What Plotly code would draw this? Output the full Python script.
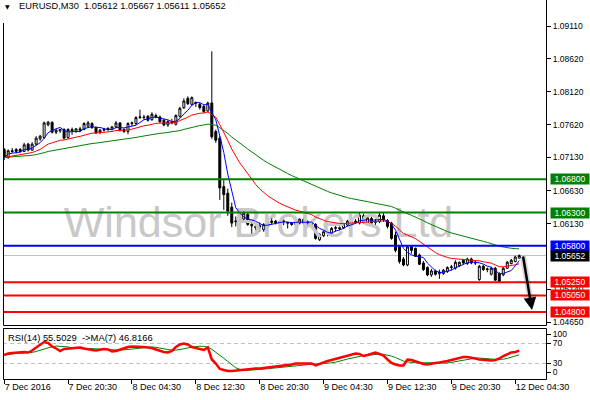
import plotly.graph_objects as go
import pandas as pd

# ---------------- data ----------------
opens = [1.0725,1.0713,1.0723,1.0722,1.0725,1.0722,1.0733,1.0724,1.0733,1.0741,
         1.0743,1.0762,1.0766,1.0751,1.0753,1.0755,1.0743,1.0755,1.0752,1.0756,
         1.0755,1.0760,1.0764,1.0758,1.0751,1.0754,1.0755,1.0755,1.0759,1.0765,
         1.0755,1.0752,1.0764,1.0764,1.0773,1.0774,1.0775,1.0770,1.0776,1.0774,
         1.0769,1.0762,1.0767,1.0763,1.0775,1.0788,1.0802,1.0793,1.0796,1.0793,
         1.0790,1.0783,1.0795,1.0752,1.0742,1.0669,1.0659,1.0638,1.0616,1.0617,
         1.0620,1.0627,1.0612,1.0609,1.0608,1.0604,1.0609,1.0615,1.0617,1.0614,
         1.0616,1.0615,1.0614,1.0612,1.0614,1.0620,1.0614,1.0615,1.0612,1.0589,
         1.0595,1.0601,1.0599,1.0606,1.0607,1.0607,1.0611,1.0613,1.0617,1.0614,
         1.0625,1.0612,1.0621,1.0615,1.0616,1.0625,1.0618,1.0614,1.0596,1.0578,
         1.0560,1.0551,1.0578,1.0576,1.0566,1.0554,1.0547,1.0536,1.0542,1.0538,
         1.0538,1.0541,1.0547,1.0546,1.0550,1.0558,1.0553,1.0560,1.0555,1.0529,
         1.0549,1.0544,1.0537,1.0546,1.0538,1.0536,1.0546,1.0553,1.0556,1.05612]
highs = [1.0727,1.0725,1.0727,1.0727,1.0727,1.0735,1.0735,1.0736,1.0745,1.0747,
         1.0767,1.0768,1.0767,1.0756,1.0756,1.0757,1.0757,1.0758,1.0757,1.0759,
         1.0766,1.0768,1.0766,1.0760,1.0756,1.0757,1.0758,1.0760,1.0768,1.0766,
         1.0757,1.0766,1.0767,1.0775,1.0785,1.0777,1.0777,1.0781,1.0779,1.0776,
         1.0771,1.0769,1.0771,1.0778,1.0789,1.0802,1.0805,1.0805,1.0797,1.0795,
         1.0792,1.0797,1.0873,1.0755,1.0745,1.0679,1.0666,1.0645,1.0624,1.0628,
         1.0632,1.0630,1.0620,1.0614,1.0615,1.0614,1.0618,1.0624,1.0619,1.0618,
         1.0620,1.0616,1.0616,1.0619,1.0621,1.0622,1.0618,1.0617,1.0614,1.0599,
         1.0603,1.0604,1.0608,1.0610,1.0609,1.0614,1.0619,1.0619,1.0620,1.0630,
         1.0628,1.0624,1.0624,1.0620,1.0630,1.0629,1.0620,1.0616,1.0601,1.0580,
         1.0563,1.0580,1.0581,1.0577,1.0568,1.0557,1.0549,1.0545,1.0544,1.0544,
         1.0545,1.0549,1.0551,1.0558,1.0556,1.0560,1.0562,1.0562,1.0558,1.0551,
         1.0551,1.0547,1.0548,1.0548,1.0540,1.0548,1.0557,1.0560,1.0565,1.05667]
lows = [1.0709,1.0711,1.0720,1.0719,1.0720,1.0721,1.0722,1.0723,1.0731,1.0738,
        1.0741,1.0760,1.0749,1.0748,1.0750,1.0740,1.0741,1.0747,1.0750,1.0751,
        1.0754,1.0758,1.0756,1.0749,1.0748,1.0752,1.0753,1.0754,1.0757,1.0752,
        1.0750,1.0748,1.0760,1.0762,1.0771,1.0770,1.0767,1.0768,1.0772,1.0765,
        1.0760,1.0759,1.0763,1.0761,1.0773,1.0786,1.0792,1.0791,1.0789,1.0785,
        1.0780,1.0781,1.0741,1.0735,1.0649,1.0634,1.0625,1.0608,1.0609,1.0613,
        1.0615,1.0610,1.0596,1.0603,1.0601,1.0601,1.0607,1.0612,1.0612,1.0612,
        1.0611,1.0606,1.0610,1.0610,1.0612,1.0612,1.0610,1.0607,1.0589,1.0587,
        1.0593,1.0594,1.0597,1.0601,1.0603,1.0605,1.0609,1.0611,1.0613,1.0612,
        1.0613,1.0610,1.0613,1.0609,1.0614,1.0616,1.0606,1.0589,1.0570,1.0553,
        1.0549,1.0549,1.0568,1.0563,1.0551,1.0542,1.0534,1.0533,1.0535,1.0530,
        1.0536,1.0539,1.0543,1.0544,1.0548,1.0552,1.0551,1.0552,1.0551,1.0527,
        1.0542,1.0540,1.0535,1.0527,1.0525,1.0534,1.0545,1.0552,1.0555,1.05611]
closes = [1.0713,1.0723,1.0722,1.0725,1.0722,1.0732,1.0724,1.0733,1.0742,1.0745,
          1.0765,1.0766,1.0751,1.0754,1.0755,1.0742,1.0755,1.0753,1.0756,1.0754,
          1.0764,1.0765,1.0758,1.0750,1.0754,1.0755,1.0757,1.0759,1.0765,1.0754,
          1.0752,1.0764,1.0765,1.0773,1.0774,1.0773,1.0769,1.0778,1.0774,1.0767,
          1.0762,1.0767,1.0765,1.0776,1.0787,1.0798,1.0794,1.0803,1.0795,1.0788,
          1.0782,1.0795,1.0744,1.0739,1.0667,1.0657,1.0632,1.0614,1.0617,1.0626,
          1.0629,1.0612,1.0610,1.0607,1.0610,1.0612,1.0616,1.0617,1.0614,1.0616,
          1.0617,1.0614,1.0612,1.0616,1.0620,1.0614,1.0616,1.0612,1.0591,1.0597,
          1.0601,1.0599,1.0606,1.0607,1.0606,1.0612,1.0617,1.0618,1.0615,1.0626,
          1.0615,1.0622,1.0614,1.0617,1.0626,1.0619,1.0609,1.0591,1.0573,1.0556,
          1.0551,1.0578,1.0573,1.0564,1.0552,1.0544,1.0536,1.0542,1.0537,1.0540,
          1.0543,1.0547,1.0548,1.0555,1.0555,1.0554,1.0560,1.0554,1.0554,1.0549,
          1.0544,1.0545,1.0546,1.0528,1.0526,1.0546,1.0555,1.0558,1.0563,1.05652]
rsi_values = [47,50,51,52,52,53,52,56,62,68,
              73,71,64,60,55,59,60,60,62,62,
              60,58,57,56,57,59,58,54,55,58,
              60,63,64,64,64,63,62,61,58,55,
              53,52,55,63,68,70,68,63,61,60,
              57,62,38,30,19,17,15,15,16,17,
              17,18,19,20,20,21,22,23,24,25,
              25,26,28,30,30,31,30,30,26,29,
              33,35,37,39,41,43,45,47,50,49,
              45,47,50,52,49,46,38,31,28,26,
              26,38,37,34,31,29,28,30,31,32,
              33,35,37,39,41,43,43,42,40,38,
              37,37,36,37,40,45,49,52,53,55.5]

tick_positions = [0, 16, 32, 48, 64, 80, 96, 112, 128]
tick_labels = ["7 Dec 2016", "7 Dec 20:30", "8 Dec 04:30", "8 Dec 12:30", "8 Dec 20:30",
               "9 Dec 04:30", "9 Dec 12:30", "9 Dec 20:30", "12 Dec 04:30"]
price_ticks = [1.09110, 1.08620, 1.08120, 1.07620, 1.07130, 1.06630, 1.06130, 1.05140, 1.04650]
level_prices = [1.0680, 1.0630, 1.0580, 1.0525, 1.0505, 1.0480]
level_colors = ["#008000", "#008000", "#0000FF", "#FF0000", "#FF0000", "#FF0000"]
last_price = 1.05652
rsi_levels = [70, 30]
rsi_tick_vals = [88.6, 70, 30, 12.6]
rsi_tick_text = ["100", "70", "30", "0"]
title_text = "EURUSD,M30\u00a0\u00a01.05612 1.05667 1.05611 1.05652"
rsi_text = "RSI(14) 55.5029\u00a0\u00a0->MA(7) 46.8166"
watermark = "Windsor Brokers Ltd"

# indicator periods
FAST, MID, SLOW, RSI_MA = 5, 18, 50, 7

# ---------------- derived ----------------
n = len(closes)
idx = list(range(n))
cs = pd.Series(closes)
ma_fast = cs.rolling(FAST, min_periods=1).mean()
ma_mid = cs.ewm(span=MID, adjust=False).mean()
ma_slow = cs.ewm(span=SLOW, adjust=False).mean()
rsi_ma = pd.Series(rsi_values).rolling(RSI_MA, min_periods=1).mean()

W, H = 590, 400
def px(x): return x / W
def py(y): return 1 - y / H

X0, X1 = px(3), px(546)
PX_PER_UNIT = 6637.0
y_top = 1.09110 + 26 / PX_PER_UNIT
y_bot = 1.09110 - (325 - 26) / PX_PER_UNIT
FONT = "Liberation Sans, Arial, sans-serif"

fig = go.Figure()

# watermark (under the candles)
fig.add_trace(go.Scatter(x=[63.7], y=[1.0610], mode="text", text=[watermark],
                         textfont=dict(family=FONT, size=43, color="#C8C8C8"),
                         hoverinfo="skip", xaxis="x", yaxis="y"))

fig.add_trace(go.Candlestick(
    x=idx, open=opens, high=highs, low=lows, close=closes,
    increasing=dict(line=dict(color="black", width=1), fillcolor="white"),
    decreasing=dict(line=dict(color="black", width=1), fillcolor="black"),
    whiskerwidth=0, hoverinfo="skip", xaxis="x", yaxis="y"))

fig.add_trace(go.Scatter(x=idx, y=ma_slow, mode="lines", line=dict(color="#008000", width=1), xaxis="x", yaxis="y", hoverinfo="skip"))
fig.add_trace(go.Scatter(x=idx, y=ma_mid, mode="lines", line=dict(color="#FF0000", width=1), xaxis="x", yaxis="y", hoverinfo="skip"))
fig.add_trace(go.Scatter(x=idx, y=ma_fast, mode="lines", line=dict(color="#0000FF", width=1), xaxis="x", yaxis="y", hoverinfo="skip"))

# RSI panel
fig.add_trace(go.Scatter(x=idx, y=rsi_ma, mode="lines", line=dict(color="#008000", width=1), xaxis="x2", yaxis="y2", hoverinfo="skip"))
fig.add_trace(go.Scatter(x=idx, y=rsi_values, mode="lines", line=dict(color="#FF0000", width=2.5), xaxis="x2", yaxis="y2", hoverinfo="skip"))

shapes = []
shapes.append(dict(type="line", xref="paper", x0=X0, x1=X1, yref="y", y0=last_price, y1=last_price,
                   line=dict(color="#C0C0C0", width=1), layer="below"))
for p, c in zip(level_prices, level_colors):
    shapes.append(dict(type="line", xref="paper", x0=X0, x1=X1, yref="y", y0=p, y1=p,
                       line=dict(color=c, width=2), layer="above"))
for lv in rsi_levels:
    shapes.append(dict(type="line", xref="paper", x0=X0, x1=X1, yref="y2", y0=lv, y1=lv,
                       line=dict(color="#C0C0C0", width=1, dash="4px,3px"), layer="below"))
lc = dict(color="black", width=1)
shapes.append(dict(type="line", xref="paper", yref="paper", x0=px(3.5), x1=px(3.5), y0=py(325.5), y1=py(23), line=lc))
shapes.append(dict(type="line", xref="paper", yref="paper", x0=px(546.5), x1=px(546.5), y0=py(325.5), y1=1, line=lc))
shapes.append(dict(type="line", xref="paper", yref="paper", x0=px(3.5), x1=px(546.5), y0=py(325.5), y1=py(325.5), line=lc))
shapes.append(dict(type="rect", xref="paper", yref="paper", x0=px(3.5), x1=px(546.5), y0=py(379.5), y1=py(328.5), line=lc))

annotations = []
for col, wdt in [("rgba(0,0,0,0.15)", 6), ("black", 2.5)]:
    annotations.append(dict(x=132.2, y=1.0483, ax=129.9, ay=1.0566, xref="x", yref="y",
                            axref="x", ayref="y", text="", showarrow=True, arrowhead=2,
                            arrowsize=1 if wdt < 3 else 0.5, arrowwidth=wdt, arrowcolor=col))
for p, c in zip(level_prices, level_colors):
    annotations.append(dict(xref="paper", x=px(550), xanchor="left", yref="y", y=p, yanchor="middle",
                            text=f"{p:.5f}", showarrow=False, bgcolor=c, borderpad=0,
                            width=38, height=10, align="center",
                            font=dict(family=FONT, size=8.5, color="white")))
annotations.append(dict(xref="paper", x=px(550), xanchor="left", yref="y", y=last_price, yanchor="middle",
                        text=f"{last_price:.5f}", showarrow=False, bgcolor="black", borderpad=0,
                        width=38, height=10, align="center",
                        font=dict(family=FONT, size=8.5, color="white")))
annotations.append(dict(xref="paper", yref="paper", x=px(2.5), y=py(6), xanchor="left", yanchor="middle",
                        text="▼", showarrow=False, font=dict(family="DejaVu Sans", size=6, color="black")))
annotations.append(dict(xref="paper", yref="paper", x=px(16.5), y=py(6), xanchor="left", yanchor="middle",
                        text=title_text, showarrow=False, font=dict(family=FONT, size=9.3, color="black")))
annotations.append(dict(xref="paper", yref="paper", x=px(6), y=py(337), xanchor="left", yanchor="middle",
                        text=rsi_text, showarrow=False, font=dict(family=FONT, size=9.4, color="black")))

fig.update_layout(
    width=W, height=H, autosize=False, margin=dict(l=0, r=0, t=0, b=0, pad=0),
    paper_bgcolor="white", plot_bgcolor="white", showlegend=False,
    font=dict(family=FONT, size=9, color="black"),
    xaxis=dict(domain=[X0, X1], range=[-0.3, 135.7], showticklabels=False, ticks="",
               showgrid=False, zeroline=False, showline=False, rangeslider=dict(visible=False),
               anchor="y", fixedrange=True, automargin=False),
    yaxis=dict(domain=[py(325), 1], range=[y_bot, y_top], side="right", anchor="x",
               tickvals=price_ticks, ticktext=[f"{v:.5f}" for v in price_ticks],
               ticks="outside", ticklen=4, tickcolor="black", showgrid=False, zeroline=False,
               showline=False, tickfont=dict(family=FONT, size=8.5, color="black"),
               fixedrange=True, automargin=False),
    xaxis2=dict(domain=[X0, X1], matches="x", anchor="y2", tickvals=tick_positions, ticktext=tick_labels,
                ticks="outside", ticklen=4, tickcolor="black", ticklabelposition="outside right",
                showgrid=False, zeroline=False, showline=False,
                tickfont=dict(family=FONT, size=9, color="black"), fixedrange=True, automargin=False),
    yaxis2=dict(domain=[py(378.5), py(328.5)], range=[0, 100], side="right", anchor="x2",
                tickvals=rsi_tick_vals, ticktext=rsi_tick_text, ticks="outside", ticklen=4,
                tickcolor="black", showgrid=False, zeroline=False, showline=False,
                tickfont=dict(family=FONT, size=8.5, color="black"), fixedrange=True, automargin=False),
    shapes=shapes, annotations=annotations,
)

post = ("document.documentElement.style.margin='0';document.documentElement.style.overflow='hidden';"
        "document.body.style.margin='0';document.body.style.padding='0';document.body.style.overflow='hidden';"
        "var gd=document.getElementById('{plot_id}');gd.style.width='590px';gd.style.height='400px';"
        "Plotly.relayout(gd,{width:590,height:400});")
fig.write_html("out.html", post_script=post, config={"responsive": False, "displayModeBar": False})
